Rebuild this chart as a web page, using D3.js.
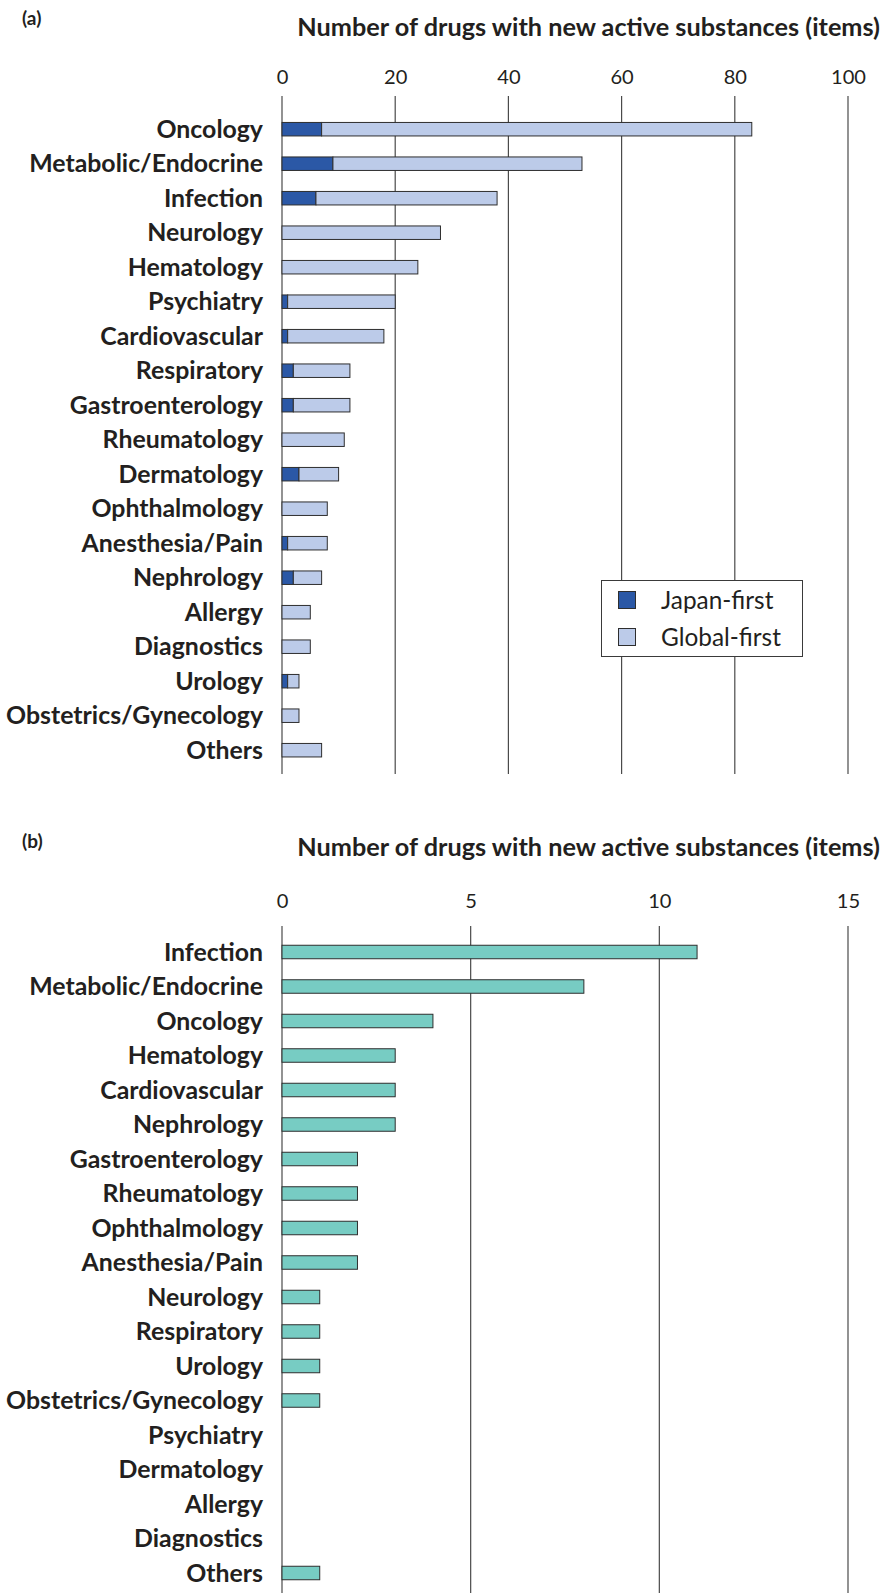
<!DOCTYPE html>
<html>
<head>
<meta charset="utf-8">
<script src="https://cdn.jsdelivr.net/npm/d3@7"></script>
<style>
  html, body { margin: 0; padding: 0; background: #fff; }
  svg { display: block; }
  text { fill: #231f20; }
</style>
</head>
<body>
<svg id="chart" width="885" height="1593"></svg>
<script>
// Panel (a): new active substances by therapeutic area, split by where first approved
const categoriesA = ["Oncology", "Metabolic/Endocrine", "Infection", "Neurology", "Hematology",
  "Psychiatry", "Cardiovascular", "Respiratory", "Gastroenterology", "Rheumatology",
  "Dermatology", "Ophthalmology", "Anesthesia/Pain", "Nephrology", "Allergy",
  "Diagnostics", "Urology", "Obstetrics/Gynecology", "Others"];
const japanFirst  = [7, 9, 6, 0, 0, 1, 1, 2, 2, 0, 3, 0, 1, 2, 0, 0, 1, 0, 0];
const globalFirst = [76, 44, 32, 28, 24, 19, 17, 10, 10, 11, 7, 8, 7, 5, 5, 5, 2, 3, 7];
const ticksA = [0, 20, 40, 60, 80, 100];

// Panel (b)
const categoriesB = ["Infection", "Metabolic/Endocrine", "Oncology", "Hematology", "Cardiovascular",
  "Nephrology", "Gastroenterology", "Rheumatology", "Ophthalmology", "Anesthesia/Pain",
  "Neurology", "Respiratory", "Urology", "Obstetrics/Gynecology", "Psychiatry",
  "Dermatology", "Allergy", "Diagnostics", "Others"];
const valuesB = [11, 8, 4, 3, 3, 3, 2, 2, 2, 2, 1, 1, 1, 1, 0, 0, 0, 0, 1];
const ticksB = [0, 5, 10, 15];

const axisTitle = "Number of drugs with new active substances (items)";
const seriesNames = ["Japan-first", "Global-first"];

const COL_JAPAN = "#2b58a6";
const COL_GLOBAL = "#bccbe9";
const COL_B = "#77ccc3";
const STROKE = "#2e2e2e";
const GRID = "#4a4a4a";
const FONT = "Lato, 'Open Sans', sans-serif";

const svg = d3.select("#chart");

// Size a font so that a reference string spans the wanted width
function fitSize(str, weight, targetWidth) {
  const t = svg.append("text").attr("font-family", FONT).attr("font-weight", weight)
    .attr("font-size", 20).text(str);
  const w = t.node().getComputedTextLength();
  t.remove();
  return 20 * targetWidth / w;
}
const labelSize = fitSize("Metabolic/Endocrine", 700, 234);
const titleSize = fitSize(axisTitle, 700, 583);
const tickSize = fitSize("100", 400, 35);
const legendSize = fitSize("Global-first", 400, 120);

const X0 = 282, X1 = 848, LABEL_X = 263;

function panel(opts) {
  const g = svg.append("g");
  const x = d3.scaleLinear().domain(opts.domain).range([X0, X1]);
  const y = d3.scaleBand().domain(opts.categories)
    .range([opts.firstCenter - opts.step / 2, opts.firstCenter + opts.step * (opts.categories.length - 0.5)])
    .padding(0);
  const barH = 13.5;

  // panel letter
  g.append("text").attr("x", 22).attr("y", opts.letterY)
    .attr("font-family", FONT).attr("font-weight", 700).attr("font-size", 19)
    .text(opts.letter);

  // axis title
  g.append("text").attr("x", 880).attr("y", opts.titleY).attr("dy", "0.35em")
    .attr("text-anchor", "end")
    .attr("font-family", FONT).attr("font-weight", 700).attr("font-size", titleSize)
    .text(axisTitle);

  // top axis tick labels
  const axis = d3.axisTop(x).tickValues(opts.ticks).tickSize(0).tickPadding(0);
  const ag = g.append("g").attr("transform", `translate(0,${opts.tickY})`).call(axis);
  ag.select(".domain").remove();
  ag.selectAll("text").attr("font-family", FONT).attr("font-size", tickSize)
    .attr("fill", "#231f20").attr("dy", "0.35em");

  // vertical gridlines
  g.append("g").selectAll("line").data(opts.ticks).join("line")
    .attr("x1", d => x(d)).attr("x2", d => x(d))
    .attr("y1", opts.gridTop).attr("y2", opts.gridBottom)
    .attr("stroke", GRID).attr("stroke-width", 1.2);

  // category labels
  g.append("g").selectAll("text").data(opts.categories).join("text")
    .attr("x", LABEL_X).attr("y", d => y(d) + y.bandwidth() / 2).attr("dy", "0.35em")
    .attr("text-anchor", "end")
    .attr("font-family", FONT).attr("font-weight", 700).attr("font-size", labelSize)
    .text(d => d);

  return { g, x, y, barH };
}

// ----- Panel (a): stacked bars -----
const pa = panel({
  letter: "(a)", letterY: 25, titleY: 27, tickY: 77,
  gridTop: 96, gridBottom: 774,
  domain: [0, 100], ticks: ticksA, categories: categoriesA,
  firstCenter: 129.2, step: 34.5
});
const rowsA = categoriesA.map((c, i) => ({ c, j: japanFirst[i], gl: globalFirst[i] }));
const stack = d3.stack().keys(["j", "gl"])(rowsA);
const colorsA = [COL_JAPAN, COL_GLOBAL];
pa.g.append("g").selectAll("g").data(stack).join("g")
  .attr("fill", (s, k) => colorsA[k])
  .selectAll("rect").data(s => s.filter(d => d[1] - d[0] > 0)).join("rect")
  .attr("x", d => pa.x(d[0]))
  .attr("y", d => pa.y(d.data.c) + pa.y.bandwidth() / 2 - pa.barH / 2)
  .attr("width", d => pa.x(d[1]) - pa.x(d[0]))
  .attr("height", pa.barH)
  .attr("stroke", STROKE).attr("stroke-width", 1);

// legend
const lg = pa.g.append("g");
lg.append("rect").attr("x", 601.5).attr("y", 580.5).attr("width", 201).attr("height", 76)
  .attr("fill", "#fff").attr("stroke", "#3a3a3a").attr("stroke-width", 1);
seriesNames.forEach((name, k) => {
  const cy = 600 + k * 37;
  lg.append("rect").attr("x", 618.5).attr("y", cy - 8.5).attr("width", 17).attr("height", 17)
    .attr("fill", colorsA[k]).attr("stroke", STROKE).attr("stroke-width", 1);
  lg.append("text").attr("x", 661).attr("y", cy).attr("dy", "0.35em")
    .attr("font-family", FONT).attr("font-size", legendSize).text(name);
});

// ----- Panel (b): simple bars -----
const pb = panel({
  letter: "(b)", letterY: 848, titleY: 847, tickY: 901,
  gridTop: 926, gridBottom: 1593,
  domain: [0, 15], ticks: ticksB, categories: categoriesB,
  firstCenter: 952, step: 34.5
});
const rowsB = categoriesB.map((c, i) => ({ c, v: valuesB[i] })).filter(d => d.v > 0);
pb.g.append("g").selectAll("rect").data(rowsB).join("rect")
  .attr("x", pb.x(0))
  .attr("y", d => pb.y(d.c) + pb.y.bandwidth() / 2 - pb.barH / 2)
  .attr("width", d => pb.x(d.v) - pb.x(0))
  .attr("height", pb.barH)
  .attr("fill", COL_B).attr("stroke", STROKE).attr("stroke-width", 1);
</script>
</body>
</html>
